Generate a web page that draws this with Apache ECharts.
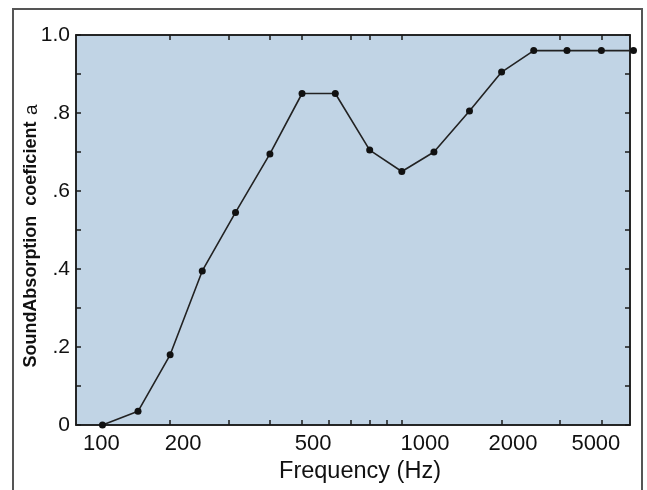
<!DOCTYPE html>
<html><head><meta charset="utf-8">
<script src="https://cdn.jsdelivr.net/npm/echarts@6/dist/echarts.min.js"></script>
<style>html,body{margin:0;padding:0;background:#fff}#c{width:647px;height:490px}</style>
</head><body><div id="c"></div>
<script>
// 1/3-octave band centre frequencies (Hz)
const freqs = [125, 160, 200, 250, 315, 400, 500, 630, 800, 1000, 1250, 1600, 2000, 2500, 3150, 4000, 5000];
// sound absorption coefficient
const alpha = [0.0, 0.035, 0.18, 0.395, 0.545, 0.695, 0.85, 0.85, 0.705, 0.65, 0.70, 0.805, 0.905, 0.96, 0.96, 0.96, 0.96];
// x tick labels and the frequency each label sits under
const xLabels = ['100', '200', '500', '1000', '2000', '5000'];
const xLabelAnchors = [124, 219, 540, 1175, 2165, 3850];
// minor tick frequencies
const bottomTicks = [200, 300, 400, 500, 600, 700, 800, 900, 1000, 2000, 3000, 4000];
const topTicks = [200, 300, 400, 500, 700, 800, 1000, 3000, 4000];
// y tick labels
const yLabels = ['0', '.2', '.4', '.6', '.8', '1.0'];
const yLabelValues = [0, 0.2, 0.4, 0.6, 0.8, 1.0];

const FMIN = 104, FMAX = 4880;
const L = Math.log10;
const FONT = 'Liberation Sans, Arial, sans-serif';
const INK = '#1a1a1a';

function nearestLabel(v, anchors, labels) {
  let best = 0, bd = Infinity;
  anchors.forEach((a, i) => { const d = Math.abs(a - v); if (d < bd) { bd = d; best = i; } });
  return labels[best];
}

const chart = echarts.init(document.getElementById('c'), null, { renderer: 'canvas' });
chart.setOption({
  animation: false,
  backgroundColor: '#ffffff',
  grid: {
    left: 76, right: 17, top: 35, bottom: 65,
    show: true, backgroundColor: '#c1d4e5', borderColor: INK, borderWidth: 1.5
  },
  xAxis: [
    { type: 'log', min: FMIN, max: FMAX, show: false },
    {
      type: 'value', position: 'bottom', min: L(FMIN), max: L(FMAX),
      axisLine: { show: true, lineStyle: { color: INK, width: 1.5 } },
      axisTick: { show: true, inside: true, length: 5, customValues: bottomTicks.map(L), lineStyle: { color: INK, width: 1.5 } },
      axisLabel: {
        customValues: xLabelAnchors.map(L),
        formatter: v => nearestLabel(v, xLabelAnchors.map(L), xLabels),
        fontSize: 22, color: '#111', margin: 8, fontFamily: FONT
      },
      splitLine: { show: false },
      name: 'Frequency (Hz)', nameLocation: 'middle', nameGap: 33,
      nameTextStyle: { fontSize: 23.5, color: '#111', fontFamily: FONT, padding: [0, 0, 0, 14] }
    },
    {
      type: 'value', position: 'top', min: L(FMIN), max: L(FMAX),
      axisLine: { show: true, lineStyle: { color: INK, width: 1.5 } },
      axisTick: { show: true, inside: true, length: 5, customValues: topTicks.map(L), lineStyle: { color: INK, width: 1.5 } },
      axisLabel: { show: false },
      splitLine: { show: false }
    }
  ],
  yAxis: [
    {
      type: 'value', position: 'left', min: 0, max: 1, interval: 0.1,
      axisLine: { show: true, lineStyle: { color: INK, width: 1.5 } },
      axisTick: { show: true, inside: true, length: 5, lineStyle: { color: INK, width: 1.5 } },
      axisLabel: {
        customValues: yLabelValues,
        formatter: v => nearestLabel(v, yLabelValues, yLabels),
        fontSize: 21, color: '#111', margin: 6, fontFamily: FONT
      },
      splitLine: { show: false },
      name: '{b|SoundAbsorption  coeficient}  {r|a}',
      nameLocation: 'middle', nameGap: 35, nameRotate: 90, nameMoveOverlap: false,
      nameTextStyle: {
        padding: [0, 12, 0, 0],
        rich: {
          b: { fontWeight: 'bold', fontSize: 18, color: '#111', fontFamily: FONT },
          r: { fontSize: 19, color: '#111', fontFamily: FONT }
        }
      }
    },
    {
      type: 'value', position: 'right', min: 0, max: 1, interval: 0.1,
      axisLine: { show: true, lineStyle: { color: INK, width: 1.5 } },
      axisTick: { show: true, inside: true, length: 5, lineStyle: { color: INK, width: 1.5 } },
      axisLabel: { show: false },
      splitLine: { show: false }
    }
  ],
  graphic: [{
    type: 'rect', silent: true, z: 100,
    shape: { x: 13, y: 9, width: 629, height: 500 },
    style: { fill: 'none', stroke: '#555', lineWidth: 2 }
  }],
  series: [{
    type: 'line', xAxisIndex: 0, yAxisIndex: 0,
    data: freqs.map((f, i) => [f, alpha[i]]),
    symbol: 'circle', symbolSize: 7, clip: false,
    lineStyle: { color: '#222', width: 1.6 },
    itemStyle: { color: '#111' }
  }]
});
</script></body></html>
